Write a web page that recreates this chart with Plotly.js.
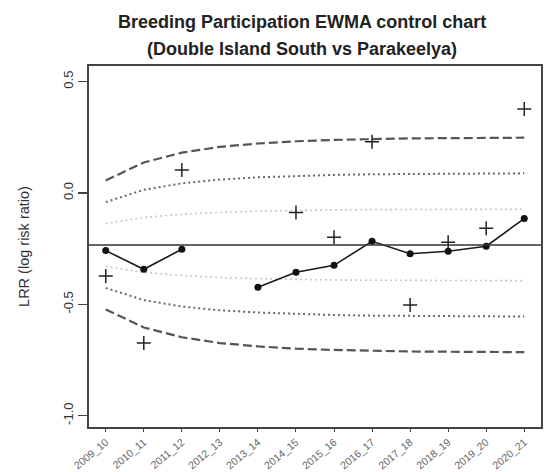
<!DOCTYPE html>
<html>
<head>
<meta charset="utf-8">
<script src="https://cdn.plot.ly/plotly-3.0.1.min.js"></script>
<style>
  html, body { margin: 0; padding: 0; background: #fff; }
  #chart { width: 546px; height: 472px; }
</style>
</head>
<body>
<div id="chart"></div>
<script>
// Seasons on the x axis
const seasons = ['2009_10', '2010_11', '2011_12', '2012_13', '2013_14', '2014_15',
                 '2015_16', '2016_17', '2017_18', '2018_19', '2019_20', '2020_21'];

// Observed log risk ratios (crosses); null where no observation is drawn
const lrr = [-0.373, -0.674, 0.103, null, null, -0.088,
             -0.199, 0.230, -0.503, -0.221, -0.159, 0.377];

// EWMA statistic (joined dots); gap in 2012_13
const ewma = [-0.259, -0.343, -0.253, null, -0.423, -0.356,
              -0.325, -0.217, -0.273, -0.262, -0.239, -0.115];

// Centre line
const centre = -0.2335;

// Control limits: 3-sigma (dashed), 2-sigma (dotted), 1-sigma (light dotted)
const upper3 = [0.056, 0.137, 0.181, 0.207, 0.222, 0.232, 0.238, 0.242, 0.245, 0.246, 0.247, 0.248];
const lower3 = [-0.523, -0.604, -0.648, -0.674, -0.689, -0.699, -0.705, -0.709, -0.712, -0.713, -0.714, -0.715];
const upper2 = [-0.041, 0.014, 0.043, 0.060, 0.070, 0.077, 0.081, 0.084, 0.086, 0.086, 0.087, 0.088];
const lower2 = [-0.427, -0.481, -0.510, -0.527, -0.537, -0.544, -0.548, -0.551, -0.553, -0.553, -0.554, -0.555];
const upper1 = [-0.137, -0.110, -0.096, -0.087, -0.082, -0.078, -0.076, -0.075, -0.074, -0.074, -0.073, -0.073];
const lower1 = [-0.330, -0.357, -0.371, -0.380, -0.385, -0.389, -0.391, -0.392, -0.393, -0.393, -0.394, -0.394];

// Title lines
const titleLines = ['Breeding Participation EWMA control chart',
                    '(Double Island South vs Parakeelya)'];

// Numeric x positions 1..n so the axis can be padded like base R graphics
const xs = seasons.map((_, i) => i + 1);

function limitTrace(y, color, dash, width) {
  return {
    x: xs, y: y, type: 'scatter', mode: 'lines',
    line: { color: color, dash: dash, width: width },
    hoverinfo: 'skip', showlegend: false
  };
}

const traces = [
  limitTrace(upper1, '#c8c8c8', '2px,3px', 1.6),
  limitTrace(lower1, '#c8c8c8', '2px,3px', 1.6),
  limitTrace(upper2, '#6a6a6a', '2px,3px', 2),
  limitTrace(lower2, '#6a6a6a', '2px,3px', 2),
  limitTrace(upper3, '#555555', '9px,4px', 2.2),
  limitTrace(lower3, '#555555', '9px,4px', 2.2),
  {
    x: xs, y: lrr, type: 'scatter', mode: 'markers',
    marker: { symbol: 'cross-thin', size: 10, color: '#222', line: { color: '#222', width: 1.5 } },
    showlegend: false
  },
  {
    x: xs, y: ewma, type: 'scatter', mode: 'lines+markers',
    line: { color: '#1a1a1a', width: 1.6 },
    marker: { symbol: 'circle', size: 7, color: '#111' },
    connectgaps: false, showlegend: false
  }
];

const layout = {
  width: 546, height: 472,
  margin: { l: 89, r: 5, t: 66, b: 45 },
  paper_bgcolor: '#fff', plot_bgcolor: '#fff',
  font: { family: 'Liberation Sans, Arial, sans-serif', color: '#333' },
  xaxis: {
    range: [0.56, 12.44],
    tickmode: 'array', tickvals: xs, ticktext: seasons,
    tickangle: -40, tickfont: { size: 10.5, color: '#666' },
    ticks: 'outside', ticklen: 3, tickcolor: '#444', tickwidth: 1,
    showgrid: false, zeroline: false,
    showline: true, linecolor: '#444', linewidth: 2, mirror: true
  },
  yaxis: {
    range: [-1.051, 0.570],
    tickmode: 'array', tickvals: [-1.0, -0.5, 0.0, 0.5], ticktext: ['-1.0', '-0.5', '0.0', '0.5'],
    tickangle: -90, tickfont: { size: 13, color: '#333' },
    ticks: 'outside', ticklen: 9, tickcolor: '#444', tickwidth: 1.2,
    showgrid: false, zeroline: false,
    showline: true, linecolor: '#444', linewidth: 2, mirror: true,
    title: { text: 'LRR (log risk ratio)', font: { size: 14.5, color: '#333' }, standoff: 28 }
  },
  shapes: [
    {
      type: 'line', xref: 'paper', x0: 0, x1: 1, yref: 'y', y0: centre, y1: centre,
      line: { color: '#333', width: 1.6 }
    }
  ],
  annotations: titleLines.map((t, i) => ({
    text: '<b>' + t + '</b>',
    xref: 'paper', yref: 'paper',
    x: 0.471, y: i === 0 ? 1.122 : 1.047,
    xanchor: 'center', yanchor: 'middle',
    showarrow: false,
    font: { size: 18, color: '#222' }
  }))
};

Plotly.newPlot('chart', traces, layout, { displayModeBar: false, staticPlot: true });
</script>
</body>
</html>
